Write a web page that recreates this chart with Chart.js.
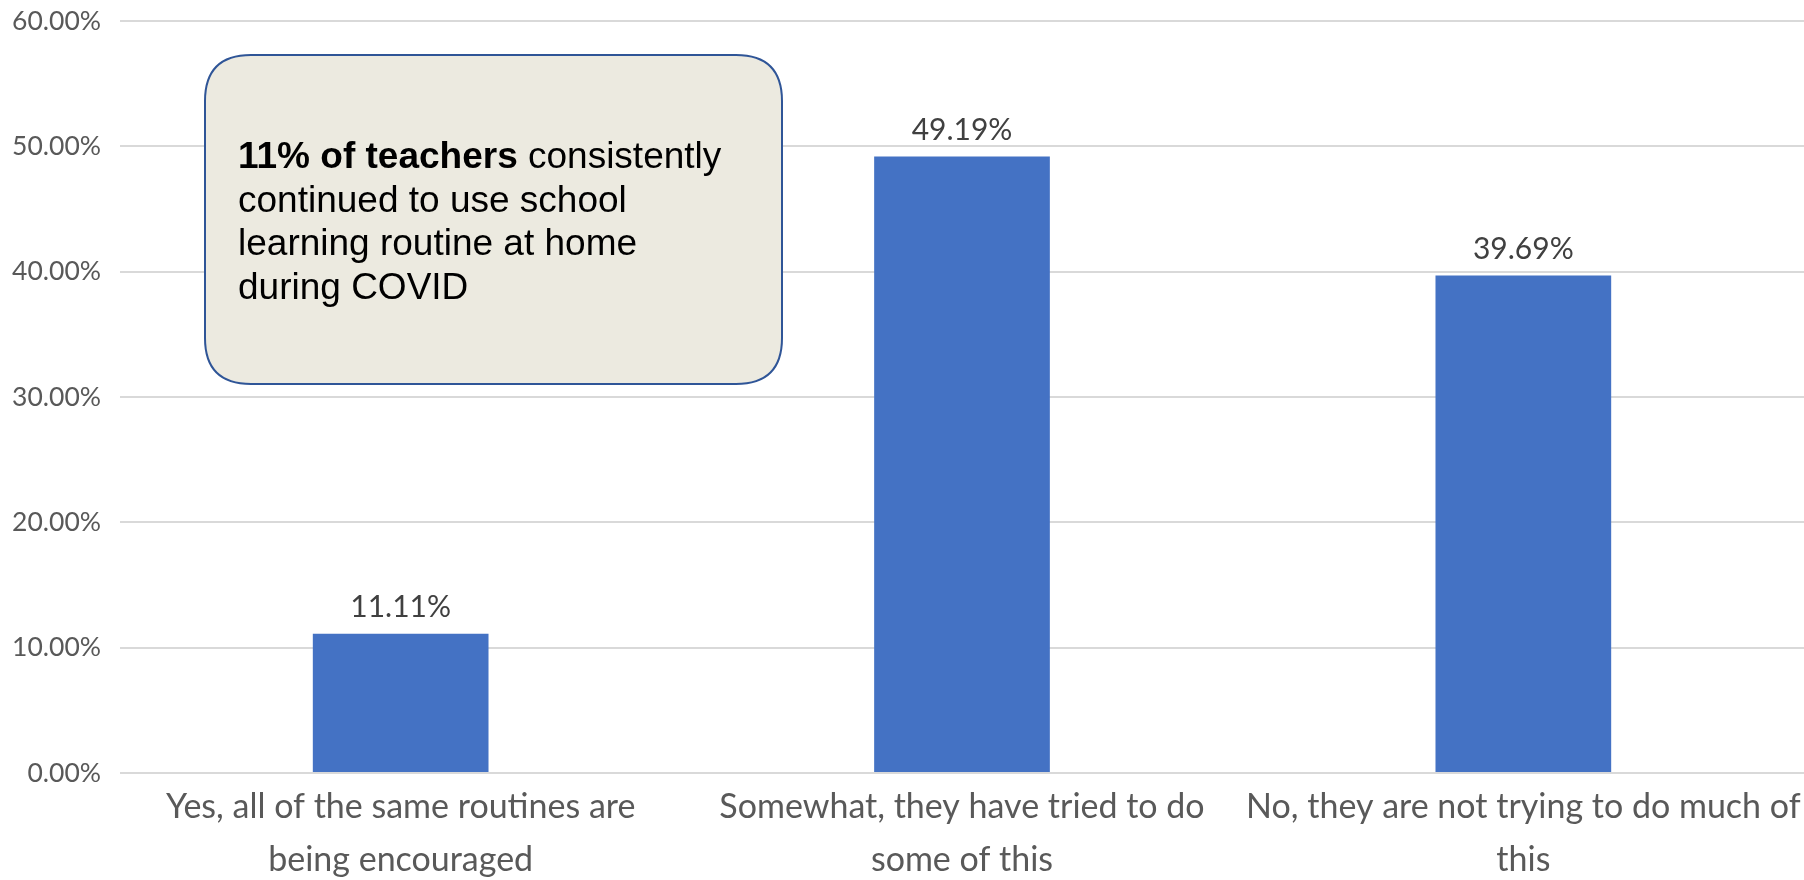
<!DOCTYPE html>
<html>
<head>
<meta charset="utf-8">
<script src="https://cdn.jsdelivr.net/npm/chart.js@4/dist/chart.umd.min.js"></script>
<style>
  html, body { margin: 0; padding: 0; background: #ffffff; }
  #wrap { width: 1804px; height: 880px; }
</style>
</head>
<body>
<div id="wrap"><canvas id="chart" width="1804" height="880"></canvas></div>
<script>
// chart data
var categories = [
	["Yes, all of the same routines are", "being encouraged"],
	["Somewhat, they have tried to do", "some of this"],
	["No, they are not trying to do much of", "this"]
];
var values = [11.11, 49.19, 39.69];
var yTicks = [0, 10, 20, 30, 40, 50, 60];

// callout text, one entry per line, [bold part, normal part]
var noteLines = [
	["11% of teachers ", "consistently"],
	["", "continued to use school"],
	["", "learning routine at home"],
	["", "during COVID"]
];

const tickFont = "Lato, 'DejaVu Sans', sans-serif";

// rounded rect helper
function roundRect(ctx, x, y, w, h, r) {
	ctx.beginPath();
	ctx.moveTo(x + r, y);
	ctx.lineTo(x + w - r, y);
	ctx.quadraticCurveTo(x + w, y, x + w, y + r);
	ctx.lineTo(x + w, y + h - r);
	ctx.quadraticCurveTo(x + w, y + h, x + w - r, y + h);
	ctx.lineTo(x + r, y + h);
	ctx.quadraticCurveTo(x, y + h, x, y + h - r);
	ctx.lineTo(x, y + r);
	ctx.quadraticCurveTo(x, y, x + r, y);
	ctx.closePath();
}

// value labels above each bar
const valueLabels = {
	id: 'valueLabels',
	afterDatasetsDraw(chart) {
		const ctx = chart.ctx;
		const meta = chart.getDatasetMeta(0);
		ctx.save();
		ctx.font = "30px " + tickFont;
		ctx.fillStyle = '#404040';
		ctx.textAlign = 'center';
		ctx.textBaseline = 'middle';
		meta.data.forEach((bar, i) => {
			ctx.fillText(values[i].toFixed(2) + '%', bar.x, bar.y - 26);
		});
		ctx.restore();
	}
};

// callout box on top of the plot
const callout = {
	id: 'callout',
	afterDraw(chart) {
		const ctx = chart.ctx;
		ctx.save();
		roundRect(ctx, 205, 55, 577, 329, 46);
		ctx.fillStyle = '#ECEAE0';
		ctx.fill();
		ctx.lineWidth = 2;
		ctx.strokeStyle = '#2F5597';
		ctx.stroke();

		ctx.fillStyle = '#000000';
		ctx.textBaseline = 'alphabetic';
		ctx.textAlign = 'left';
		noteLines.forEach((ln, i) => {
			let x = 238;
			let y = 168 + i * 43.5;
			if (ln[0]) {
				ctx.font = "bold 37px 'Liberation Sans', Arial, sans-serif";
				ctx.fillText(ln[0], x, y);
				x += ctx.measureText(ln[0]).width;
			}
			ctx.font = "37px 'Liberation Sans', Arial, sans-serif";
			ctx.fillText(ln[1], x, y);
		});
		ctx.restore();
	}
};

const chart = new Chart(document.getElementById('chart'), {
	type: 'bar',
	data: {
		labels: categories,
		datasets: [{
			data: values,
			backgroundColor: '#4472C4',
			borderWidth: 0,
			categoryPercentage: 1.0,
			barPercentage: 0.313
		}]
	},
	options: {
		responsive: false,
		animation: false,
		layout: { padding: { top: 21, right: 0, bottom: 0, left: 12 } },
		plugins: {
			legend: { display: false },
			tooltip: { enabled: false }
		},
		scales: {
			x: {
				grid: { display: false, drawTicks: false },
				border: { display: false },
				ticks: {
					color: '#595959',
					font: { family: tickFont, size: 34, lineHeight: 1.55 },
					padding: 8,
					maxRotation: 0,
					autoSkip: false
				},
				afterFit(axis) {
					axis.height = 107;
					axis.paddingLeft = 0;
					axis.paddingRight = 0;
				}
			},
			y: {
				min: 0,
				max: 60,
				afterBuildTicks(axis) { axis.ticks = yTicks.map(v => ({ value: v })); },
				grid: { color: '#D9D9D9', lineWidth: 2, drawTicks: false },
				border: { display: false },
				ticks: {
					color: '#595959',
					font: { family: tickFont, size: 26.5 },
					padding: 19,
					callback: v => v.toFixed(2) + '%'
				},
				afterFit(axis) {
					axis.width = 108;
					axis.paddingTop = 0;
					axis.paddingBottom = 0;
				}
			}
		}
	},
	plugins: [valueLabels, callout]
});
</script>
</body>
</html>
